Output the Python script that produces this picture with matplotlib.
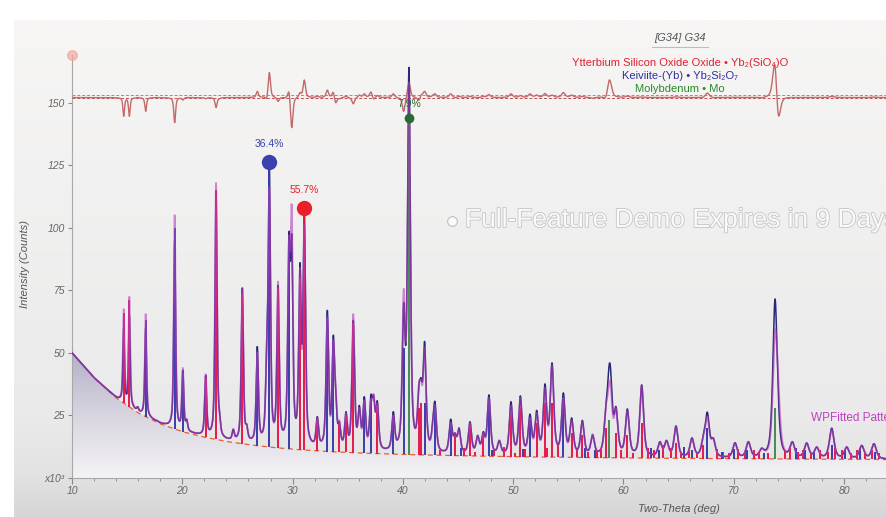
import numpy as np
import matplotlib.pyplot as plt
import matplotlib.patheffects as pe
from matplotlib.colors import LinearSegmentedColormap
from matplotlib.lines import Line2D

plt.rcParams['font.family'] = ['Liberation Sans', 'DejaVu Sans']

# background (dashed) curve
bg_x = [10, 12, 14, 16, 18, 20, 22, 24, 26, 28, 30, 33, 36, 40, 45, 50, 60, 70, 84]
bg_y = [50, 40, 32, 26, 21.6, 18.5, 16.3, 14.6, 13.3, 12.3, 11.5, 10.6, 10.0, 9.4, 8.9, 8.5, 8.0, 7.7, 7.4]

# peak tops: position (deg), observed counts, fitted counts (x1000)
peak_pos = [14.69, 15.20, 15.96, 16.68, 17.68, 19.31, 20.05, 20.40, 22.12, 23.06,
            23.36, 24.62, 25.44, 25.84, 26.80, 27.65, 27.89, 28.68, 29.67, 29.92,
            30.67, 31.06, 32.24, 33.15, 33.69, 33.90, 34.24, 34.84, 35.50, 36.05,
            36.50, 37.10, 37.35, 37.68, 39.13, 40.07, 40.55, 41.45, 41.65, 41.97,
            42.72, 42.91, 44.33, 44.72, 45.09, 46.08, 46.78, 47.29, 47.80, 48.74,
            49.80, 50.65, 51.52, 52.13, 52.88, 53.52, 54.55, 55.30, 56.27, 57.20,
            58.41, 58.69, 58.84, 59.32, 60.35, 61.65, 63.30, 63.90, 64.76, 66.21,
            67.24, 67.60, 68.14, 70.11, 71.32, 72.53, 73.74, 74.01, 75.31, 76.61,
            77.52, 78.88, 80.24, 81.60, 82.71]
obs_top = [60, 65, 28.5, 60, 23, 95, 43, 23.5, 41, 114,
           27, 19.5, 76, 21.5, 52.5, 54, 126, 77, 98, 97,
           86, 108, 24.5, 67, 57, 36, 22.5, 26.5, 63, 29,
           32.5, 33.2, 33, 30.8, 26.5, 70, 164, 37, 40, 54.5,
           24, 30.5, 23.5, 18, 20, 22.5, 17, 18.5, 33.2, 15,
           30.5, 32.8, 25.5, 27, 37.6, 46, 34, 24, 23, 17.2,
           29.6, 44.8, 43, 28.5, 27.6, 37.2, 14.5, 15, 20.8, 16,
           17.2, 26.3, 16, 14.1, 14.5, 11.9, 71.5, 37, 14.5, 14,
           12.4, 19.9, 12.4, 13, 13.7]
calc_top = [67.5, 72.5, 28.5, 65.5, 23, 105, 44, 23.5, 41.5, 118,
            27.5, 19.5, 76, 21.5, 50, 54, 116, 78.5, 96, 109,
            84, 101, 24, 64, 55, 38, 23, 26, 65.5, 28,
            31, 31, 33.5, 30, 25, 75.5, 158, 38, 39, 52,
            23, 29, 22, 18, 19.5, 22, 17, 18, 32, 15,
            29, 32, 24, 26, 36, 45, 32, 23, 22.5, 17.5,
            29, 38, 37, 28, 27, 37, 14.5, 15, 20.5, 16,
            17, 24.5, 16, 14, 14.5, 12, 59, 43, 14.5, 14,
            12.4, 19.5, 12.4, 13, 13.5]

# phase reference lines
red_pos = [14.69, 15.20, 22.12, 23.06, 25.44, 28.68, 30.67, 31.06, 32.24, 34.24,
           34.84, 35.50, 37.68, 41.45, 41.65, 44.72, 46.08, 47.29, 49.80, 50.65,
           52.13, 52.88, 53.52, 55.30, 56.27, 58.41, 59.32, 60.35, 61.65, 64.76,
           67.24, 43.4, 45.5, 46.5, 48.3, 49.2, 50.2, 51.1, 53.1, 54.1,
           55.8, 56.8, 57.6, 58.0, 59.8, 60.9, 62.2, 62.8, 63.6, 64.3,
           65.2, 65.9, 66.7, 68.5, 69.0, 69.6, 70.4, 71.0, 71.8, 72.3,
           73.1, 74.6, 75.1, 75.8, 76.3, 77.0, 77.8, 78.5, 79.2, 79.8,
           80.6, 81.2, 81.9, 82.5, 83.2]
red_h = [66, 71, 40, 115, 74, 76, 80, 108, 23, 22,
         25, 62, 29, 28, 30, 17, 21, 17, 25, 28,
         22, 30, 30, 18, 17, 20, 18, 17, 22, 14,
         13, 11, 12, 10.5, 11, 12.5, 10, 11.5, 12, 13,
         11, 10.5, 11, 12, 11, 10, 12, 11, 13, 12,
         10.5, 11, 10, 11.5, 10.5, 10, 11.5, 10, 11, 10.5,
         10, 11, 12, 10.5, 11, 10, 11, 10.5, 12, 11,
         10, 11, 10.5, 11, 10]
blue_pos = [16.68, 19.31, 20.05, 26.80, 27.89, 29.67, 33.15, 33.69, 36.50, 37.10,
            39.13, 40.07, 41.97, 42.91, 44.33, 47.80, 51.52, 54.55, 45.3, 48.1,
            50.9, 56.5, 57.4, 62.5, 63.2, 65.5, 66.2, 67.6, 68.9, 70.0,
            71.2, 72.7, 75.6, 76.5, 77.3, 78.9, 80.1, 81.4, 82.8]
blue_h = [63, 100, 42, 50, 126.4, 95, 65, 55, 31, 32,
          25, 52, 30, 28, 22, 31, 24, 32, 12, 11,
          11.5, 12, 11, 12, 11, 12.5, 11, 20, 10.5, 11.5,
          11, 10, 12, 11, 10.5, 13, 11, 12, 10.5]
green_pos = [40.55, 58.69, 73.74]
green_h = [144, 23, 28]

# strongest line of each phase with its weight fraction
phase_x = [31.06, 27.89, 40.55]
phase_y = [108, 126.4, 144]
phase_pct = ['55.7%', '36.4%', '7.9%']
phase_col = ['#e8202c', '#3a40b0', '#2a6a34']

diff_offset = 152

tt = np.linspace(10, 83.8, 8000)
bg = np.interp(tt, bg_x, bg_y)
pos = np.array(peak_pos)
fwhm = 0.15 + 0.005 * (pos - 10)


def shape(x):
    d = (np.asarray(x)[:, None] - pos[None, :]) / (fwhm[None, :] / 2)
    return 0.6 / (1 + d ** 2) + 0.4 * np.exp(-np.log(2) * d ** 2)


def profile(tops):
    amp = np.linalg.solve(shape(pos), np.array(tops) - np.interp(pos, bg_x, bg_y))
    return bg + shape(tt) @ amp


obs = profile(obs_top)
calc = profile(calc_top)
diff = diff_offset + obs - calc

fig = plt.figure(figsize=(8.86, 5.17), dpi=100)
fig.patch.set_facecolor('white')

# panel background gradient
pan = fig.add_axes([14 / 886, 0, 1 - 14 / 886, 1 - 20 / 517])
pan.set_axis_off()
pan_cmap = LinearSegmentedColormap.from_list('pan', [(0, '#d6d6d6'), (0.08, '#e2e2e2'),
                                                     (0.2, '#eaeaea'), (1, '#f7f6f5')])
pan.imshow(np.linspace(0, 1, 256)[:, None], cmap=pan_cmap, aspect='auto',
           origin='lower', extent=[0, 1, 0, 1])

ax = fig.add_axes([72 / 886, 1 - 478 / 517, 1 - 72 / 886, (478 - 55) / 517])
ax.patch.set_alpha(0)
ax.set_xlim(10, 83.8)
ax.set_ylim(0, 169)

# gradient fill under the background curve
poly = ax.fill_between(tt, 0, bg, color='none')
fill_cmap = LinearSegmentedColormap.from_list('fill', ['#f4f3f5', '#d8d5e0', '#b4b0c8'])
im = ax.imshow(np.linspace(0, 1, 256)[:, None], cmap=fill_cmap, aspect='auto',
               origin='lower', extent=[10, 83.8, 0, 50], zorder=1)
im.set_clip_path(poly.get_paths()[0], transform=ax.transData)

ax.plot(tt, bg, color='#e8602a', lw=0.9, ls=(0, (4, 3)), zorder=2)

ax.plot(tt, obs, color='#2a2878', lw=1.1, zorder=4)

# reference sticks from the background up
ax.vlines(red_pos, np.interp(red_pos, bg_x, bg_y), red_h, color='#e8184c', lw=1.4, zorder=4.5)
ax.vlines(blue_pos, np.interp(blue_pos, bg_x, bg_y), blue_h, color='#3a3caa', lw=1.4, zorder=4.5)
ax.vlines(green_pos, np.interp(green_pos, bg_x, bg_y), green_h, color='#2a7a3a', lw=1.2, zorder=4.5)

ax.plot(tt, calc, color='#b63cbc', lw=1.3, alpha=0.6, zorder=5)

# difference curve
ax.axhline(153.2, color='#909090', lw=0.7, ls=(0, (3, 2)), zorder=2)
ax.axhline(diff_offset, color='#c05050', lw=0.7, ls=(0, (3, 2)), zorder=2)
ax.plot(tt, diff, color='#c26a6a', lw=1.0, zorder=3)

for x, y, p, c in zip(phase_x, phase_y, phase_pct, phase_col):
    ms = 6 if p == '7.9%' else 10
    ax.plot([x], [y], 'o', color=c, ms=ms, zorder=7)
    ax.text(x, y + (3.5 if ms == 6 else 5), p, color=c, fontsize=7.5,
            ha='center', va='bottom', zorder=7)

ax.plot([10], [169], 'o', color='#f2a8a0', ms=7, alpha=0.7, clip_on=False, zorder=7)

ax.text(77.0, 24, 'WPFitted Pattern', color='#c040c0', fontsize=8.5,
        ha='left', va='center', zorder=7)

# axes styling
for s in ['top', 'right']:
    ax.spines[s].set_visible(False)
for s in ['left', 'bottom']:
    ax.spines[s].set_color('#a8a8a8')
ax.set_xticks(range(10, 84, 10))
ax.set_xticks(range(12, 84, 2), minor=True)
ax.set_yticks([0, 25, 50, 75, 100, 125, 150])
ax.set_yticklabels(['x10³', '25', '50', '75', '100', '125', '150'])
ax.tick_params(axis='both', which='both', colors='#888888', labelcolor='#666666',
               labelsize=7.5, direction='out')
ax.tick_params(axis='x', which='major', length=4, pad=2)
ax.tick_params(axis='x', which='minor', length=2.5)
ax.tick_params(axis='y', length=3, pad=2)
for lab in ax.get_xticklabels() + ax.get_yticklabels():
    lab.set_fontstyle('italic')
ax.set_xlabel('Two-Theta (deg)', fontsize=8, style='italic', color='#555555')
ax.set_ylabel('Intensity (Counts)', fontsize=8, style='italic', color='#555555')
ax.xaxis.set_label_coords(0.746, -0.062)
ax.yaxis.set_label_coords(-0.052, 0.505)

# legend block
fig.text(680 / 886, 1 - 38 / 517, '[G34] G34', fontsize=8, style='italic',
         color='#555555', ha='center', va='center')
fig.add_artist(Line2D([652 / 886, 708 / 886], [1 - 47 / 517] * 2, color='#aac0dc', lw=0.8))
fig.text(680 / 886, 1 - 63 / 517, 'Ytterbium Silicon Oxide Oxide • Yb₂(SiO₄)O',
         fontsize=8, color='#e02030', ha='center', va='center')
fig.text(680 / 886, 1 - 76 / 517, 'Keiviite-(Yb) • Yb₂Si₂O₇',
         fontsize=8, color='#3030a0', ha='center', va='center')
fig.text(680 / 886, 1 - 89 / 517, 'Molybdenum • Mo',
         fontsize=8, color='#2a8a2a', ha='center', va='center')

# demo watermark
wm = fig.text(465 / 886, 1 - 220 / 517, 'Full-Feature Demo Expires in 9 Days',
              fontsize=19, color='#fafafa', ha='left', va='center', zorder=10)
wm.set_path_effects([pe.withStroke(linewidth=1.2, foreground='#c4c4c4')])
fig.add_artist(Line2D([452 / 886], [1 - 221 / 517], marker='o', ms=7,
                      color='#fafafa', mec='#c0c0c0', mew=0.8))

fig.savefig('out.png', dpi=100)
